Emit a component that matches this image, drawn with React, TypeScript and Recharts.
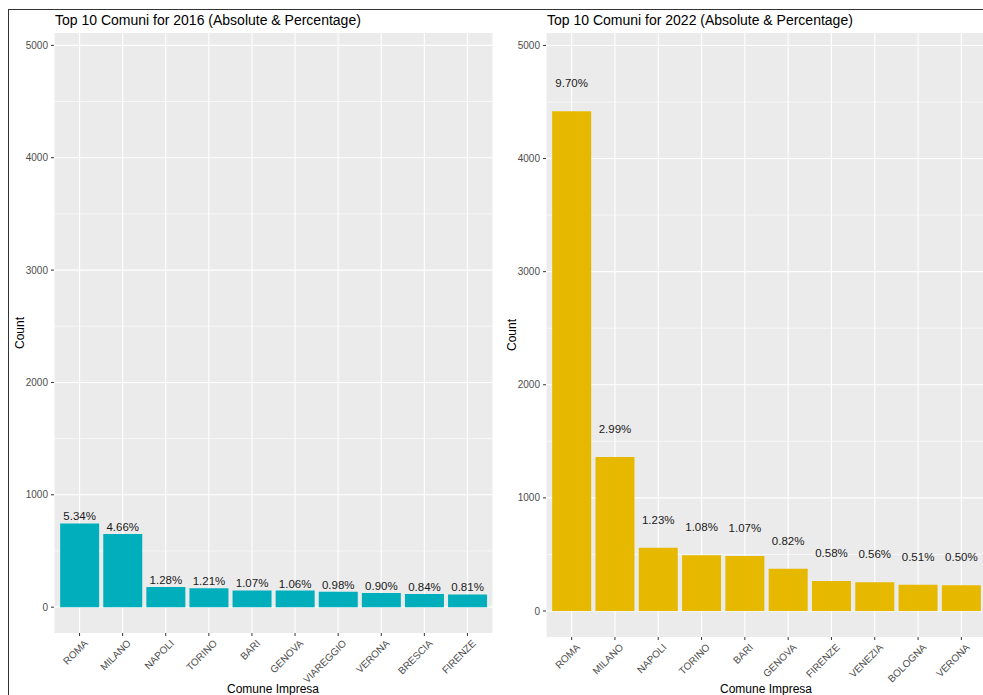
import React from 'react';
import { BarChart, Bar, XAxis, YAxis, CartesianGrid, LabelList } from 'recharts';

// Top 10 comuni, 2016
const comuni2016 = ['ROMA', 'MILANO', 'NAPOLI', 'TORINO', 'BARI', 'GENOVA', 'VIAREGGIO', 'VERONA', 'BRESCIA', 'FIRENZE'];
const counts2016 = [745, 650, 179, 169, 149, 148, 137, 126, 117, 113];
const pct2016 = ['5.34%', '4.66%', '1.28%', '1.21%', '1.07%', '1.06%', '0.98%', '0.90%', '0.84%', '0.81%'];

// Top 10 comuni, 2022
const comuni2022 = ['ROMA', 'MILANO', 'NAPOLI', 'TORINO', 'BARI', 'GENOVA', 'FIRENZE', 'VENEZIA', 'BOLOGNA', 'VERONA'];
const counts2022 = [4419, 1362, 560, 492, 487, 374, 264, 255, 232, 228];
const pct2022 = ['9.70%', '2.99%', '1.23%', '1.08%', '1.07%', '0.82%', '0.58%', '0.56%', '0.51%', '0.50%'];

const majorTicks = [0, 1000, 2000, 3000, 4000, 5000];
const minorTicks = [500, 1500, 2500, 3500, 4500];

const FONT = '"Liberation Sans", Arial, sans-serif';
const AXIS_GREY = '#4D4D4D';

const toRows = (names: string[], counts: number[], pcts: string[]) =>
  names.map((name, i) => ({ name, count: counts[i], pct: pcts[i] }));

const data2016 = toRows(comuni2016, counts2016, pct2016);
const data2022 = toRows(comuni2022, counts2022, pct2022);

const AngledTick = (props: any) => {
  const { x, y, payload } = props;
  return (
    <g transform={`translate(${x + 4},${y + 1})`}>
      <text
        x={0}
        y={0}
        dy="0.7em"
        textAnchor="end"
        fontSize={10}
        fill={AXIS_GREY}
        fontFamily={FONT}
        transform="rotate(-45)"
      >
        {payload.value}
      </text>
    </g>
  );
};

interface PanelProps {
  data: { name: string; count: number; pct: string }[];
  color: string;
  left: number;
  width: number;
  marginRight: number;
  marginBottom: number;
  labelOffset: number;
}

function Panel({ data, color, left, width, marginRight, marginBottom, labelOffset }: PanelProps) {
  return (
    <div style={{ position: 'absolute', left, top: 0 }}>
      <BarChart
        width={width}
        height={687}
        data={data}
        margin={{ top: 25, right: marginRight, bottom: marginBottom, left: 0 }}
        barCategoryGap="5%"
      >
        <CartesianGrid
          fill="#EBEBEB"
          stroke="#FFFFFF"
          strokeWidth={0.6}
          vertical={false}
          horizontalValues={minorTicks}
        />
        <CartesianGrid stroke="#FFFFFF" strokeWidth={1.1} horizontalValues={majorTicks} />
        <XAxis
          dataKey="name"
          interval={0}
          height={50}
          axisLine={false}
          tickSize={3}
          tickMargin={2}
          tickLine={{ stroke: '#333333' }}
          padding={{ left: 4, right: 4 }}
          tick={<AngledTick />}
        />
        <YAxis
          type="number"
          width={46}
          domain={[-230, 5110]}
          ticks={majorTicks}
          allowDataOverflow
          axisLine={false}
          tickSize={3}
          tickMargin={3}
          tickLine={{ stroke: '#333333' }}
          tick={{ fontSize: 10, fill: AXIS_GREY, fontFamily: FONT }}
        />
        <Bar dataKey="count" fill={color} isAnimationActive={false}>
          <LabelList
            dataKey="pct"
            position="top"
            offset={labelOffset}
            fontSize={11.5}
            fill="#1A1A1A"
            fontFamily={FONT}
          />
        </Bar>
      </BarChart>
    </div>
  );
}

const textBase: React.CSSProperties = {
  position: 'absolute',
  fontFamily: FONT,
  whiteSpace: 'nowrap',
  color: '#000',
};

export default function App() {
  return (
    <div
      style={{
        position: 'absolute',
        left: 8,
        top: 8,
        width: 975,
        height: 687,
        overflow: 'hidden',
        background: '#fff',
      }}
    >
      <div style={{ position: 'absolute', left: 0, top: 1, width: 975, height: 1, background: '#333' }} />
      <div style={{ position: 'absolute', left: 0, top: 1, width: 1, height: 686, background: '#333' }} />

      <Panel data={data2016} color="#00AFBB" left={0} width={492} marginRight={7} marginBottom={12} labelOffset={3} />
      <Panel data={data2022} color="#E7B800" left={492} width={490} marginRight={3} marginBottom={8} labelOffset={24} />

      <div style={{ ...textBase, left: 47, top: 4, fontSize: 14, lineHeight: '16px' }}>
        Top 10 Comuni for 2016 (Absolute &amp; Percentage)
      </div>
      <div style={{ ...textBase, left: 539, top: 4, fontSize: 14, lineHeight: '16px' }}>
        Top 10 Comuni for 2022 (Absolute &amp; Percentage)
      </div>

      <div style={{ ...textBase, left: 12, top: 325, fontSize: 12, transform: 'translate(-50%,-50%) rotate(-90deg)' }}>
        Count
      </div>
      <div style={{ ...textBase, left: 504, top: 327, fontSize: 12, transform: 'translate(-50%,-50%) rotate(-90deg)' }}>
        Count
      </div>

      <div style={{ ...textBase, left: 265, top: 681, fontSize: 12, transform: 'translate(-50%,-50%)' }}>
        Comune Impresa
      </div>
      <div style={{ ...textBase, left: 758, top: 681, fontSize: 12, transform: 'translate(-50%,-50%)' }}>
        Comune Impresa
      </div>
    </div>
  );
}
